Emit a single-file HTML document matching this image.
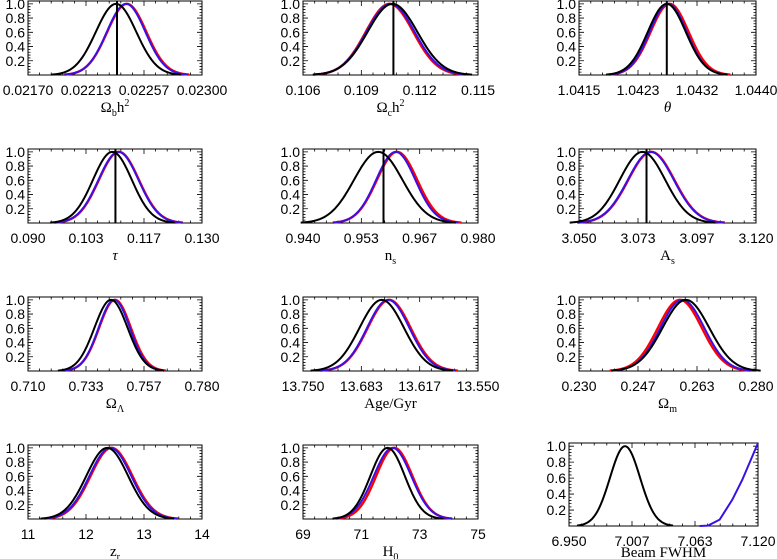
<!DOCTYPE html>
<html><head><meta charset="utf-8">
<style>
html,body{margin:0;padding:0;background:#fff;}
svg{display:block;}
text{font-family:"Liberation Sans",sans-serif;font-size:14px;fill:#000;}
.ttl{font-family:"Liberation Serif",serif;font-size:15px;}
</style></head>
<body>
<svg id="fig" width="777" height="559" viewBox="0 0 777 559" xmlns="http://www.w3.org/2000/svg"></svg>
<script>
const panelNames=['omega-b-h2','omega-c-h2','theta','tau','n-s','a-s','omega-lambda','age-gyr','omega-m','z-r','h0','beam-fwhm'];
const xMin=[0.02170,0.106,1.0415,0.090,0.940,3.050,0.710,13.750,0.230,11,69,6.950];
const xMax=[0.02300,0.115,1.0440,0.130,0.980,3.120,0.780,13.550,0.280,14,75,7.120];
const xTickLabels=[
 ['0.02170','0.02213','0.02257','0.02300'],
 ['0.106','0.109','0.112','0.115'],
 ['1.0415','1.0423','1.0432','1.0440'],
 ['0.090','0.103','0.117','0.130'],
 ['0.940','0.953','0.967','0.980'],
 ['3.050','3.073','3.097','3.120'],
 ['0.710','0.733','0.757','0.780'],
 ['13.750','13.683','13.617','13.550'],
 ['0.230','0.247','0.263','0.280'],
 ['11','12','13','14'],
 ['69','71','73','75'],
 ['6.950','7.007','7.063','7.120']];
const yTickLabels=['0.2','0.4','0.6','0.8','1.0'];
const yTickValues=[0.2,0.4,0.6,0.8,1.0];
const meanBlack=[0.022358,0.1106,1.04274,0.1094,0.9572,3.0751,0.7434,13.660,0.2602,12.366,71.90,7.0004];
const sigBlack=[0.000151,0.00128,0.000268,0.00447,0.00554,0.0090,0.00668,0.0254,0.0066,0.36,0.59,0.0135];
const meanRed=[0.022438,0.11045,1.04278,0.1109,0.9615,3.0786,0.7450,13.6515,0.2585,12.44,72.13,null];
const sigRed=[0.000146,0.00122,0.000268,0.0046,0.0046,0.0091,0.0064,0.0245,0.0062,0.36,0.62,null];
const meanBlue=[0.022433,0.1105,1.04276,0.1108,0.9612,3.0784,0.7447,13.6526,0.2592,12.42,72.07,null];
const sigBlue=[0.000144,0.00124,0.000262,0.0046,0.00448,0.0091,0.0063,0.0242,0.0062,0.36,0.64,null];
const vLine=[0.022365,0.11065,1.04274,0.1101,0.9584,3.0767,null,null,null,null,null,null];
const beamBlueX=[7.0675,7.075,7.0855,7.0969,7.1059,7.120];
const beamBlueY=[0.0,0.005,0.08,0.33,0.58,1.04];

const NS='http://www.w3.org/2000/svg';
const svg=document.getElementById('fig');
function mk(tag,attrs,parent){const e=document.createElementNS(NS,tag);for(const k in attrs)e.setAttribute(k,attrs[k]);(parent||svg).appendChild(e);return e;}
const colL=[28,303,579],colW=[174,175,177],rowT=[1,149,297,445],H=74;
const titles=[
 [['Ω'],['b','sub'],['h'],['2','sup']],
 [['Ω'],['c','sub'],['h'],['2','sup']],
 [['θ','it']],[['τ','it']],
 [['n'],['s','sub']],[['A'],['s','sub']],
 [['Ω'],['Λ','sub']],[['Age/Gyr']],[['Ω'],['m','sub']],
 [['z'],['r','sub']],[['H'],['0','sub']],[['Beam FWHM']]];
const YMAX=1.04;
for(let p=0;p<12;p++){
  let fx=colL[p%3],fw=colW[p%3],fy=rowT[Math.floor(p/3)],fh=H;
  if(p===11){fx=569;fw=189;fy=443;fh=83;}
  const g=mk('g',{});
  
  
  const sx=v=>fx+(v-xMin[p])/(xMax[p]-xMin[p])*fw;
  const sy=v=>fy+fh-v/YMAX*fh;
  const fr=mk('rect',{x:fx,y:fy,width:fw,height:fh,fill:'none',stroke:'#000','stroke-width':1},g);
  
  
  let tk='';
  for(let k=1;k<=25;k++){const v=k*0.04;if(v>YMAX)break;const yy=sy(v);const len=(Math.abs(v*5-Math.round(v*5))<1e-6)?5:2.5;
    tk+=`M${fx},${yy}h${len}M${fx+fw},${yy}h${-len}`;}
  for(let k=0;k<=15;k++){const xx=fx+k*fw/15;const len=(k%5===0)?5:2.5;tk+=`M${xx},${fy+fh}v${-len}M${xx},${fy}v${len}`;}
  const tp=mk('path',{d:tk,stroke:'#000','stroke-width':0.8,fill:'none'},g);
  
  
  yTickValues.forEach((v,i)=>{
    const t=mk('text',{x:fx-3,y:sy(v)+5,'text-anchor':'end'},g);t.textContent=yTickLabels[i];
    
    
  });
  xTickLabels[p].forEach((lab,i)=>{
    const xx=fx+i*fw/3;
    const t=mk('text',{x:xx,y:fy+fh+20,'text-anchor':'middle'},g);t.textContent=lab;
    
    
  });
  const ty=(p===11)?557:fy+fh+37;
  const tt=mk('text',{x:fx+fw/2,y:ty,'text-anchor':'middle','class':'ttl'},g);
  
  
  titles[p].forEach(part=>{
    const s=mk('tspan',{},tt);s.textContent=part[0];
    if(part[1]==='sub'){s.setAttribute('font-size','10');s.setAttribute('baseline-shift','-4');}
    if(part[1]==='sup'){s.setAttribute('font-size','10');s.setAttribute('baseline-shift','6');}
    if(part[1]==='it'){s.setAttribute('font-style','italic');}
  });
  function gauss(m,s,color,w,name){
    if(m===null)return;
    let d='';const N=80;
    for(let i=0;i<=N;i++){const v=m-3.2*s+6.4*s*i/N;const y=Math.exp(-0.5*Math.pow((v-m)/s,2));
      d+=(i?'L':'M')+sx(v).toFixed(2)+','+sy(y).toFixed(2);}
    const c=mk('path',{d:d,stroke:color,'stroke-width':w,fill:'none','stroke-linejoin':'round'},g);
    
    
  }
  gauss(meanRed[p],sigRed[p],'#ff0000',2.4,'curve-red');
  gauss(meanBlue[p],sigBlue[p],'#3a10e5',2,'curve-blue');
  gauss(meanBlack[p],sigBlack[p],'#000',2,'curve-black');
  if(p===11){
    let d='';beamBlueX.forEach((v,i)=>{d+=(i?'L':'M')+sx(v).toFixed(2)+','+sy(beamBlueY[i]).toFixed(2);});
    const b=mk('path',{d:d,stroke:'#3a10e5','stroke-width':2,fill:'none'},g);
    
    
  }
  if(vLine[p]!==null){
    const l=mk('line',{x1:sx(vLine[p]),x2:sx(vLine[p]),y1:fy+fh,y2:fy,stroke:'#000','stroke-width':2},g);
    
    
  }
}
</script>
</body></html>
